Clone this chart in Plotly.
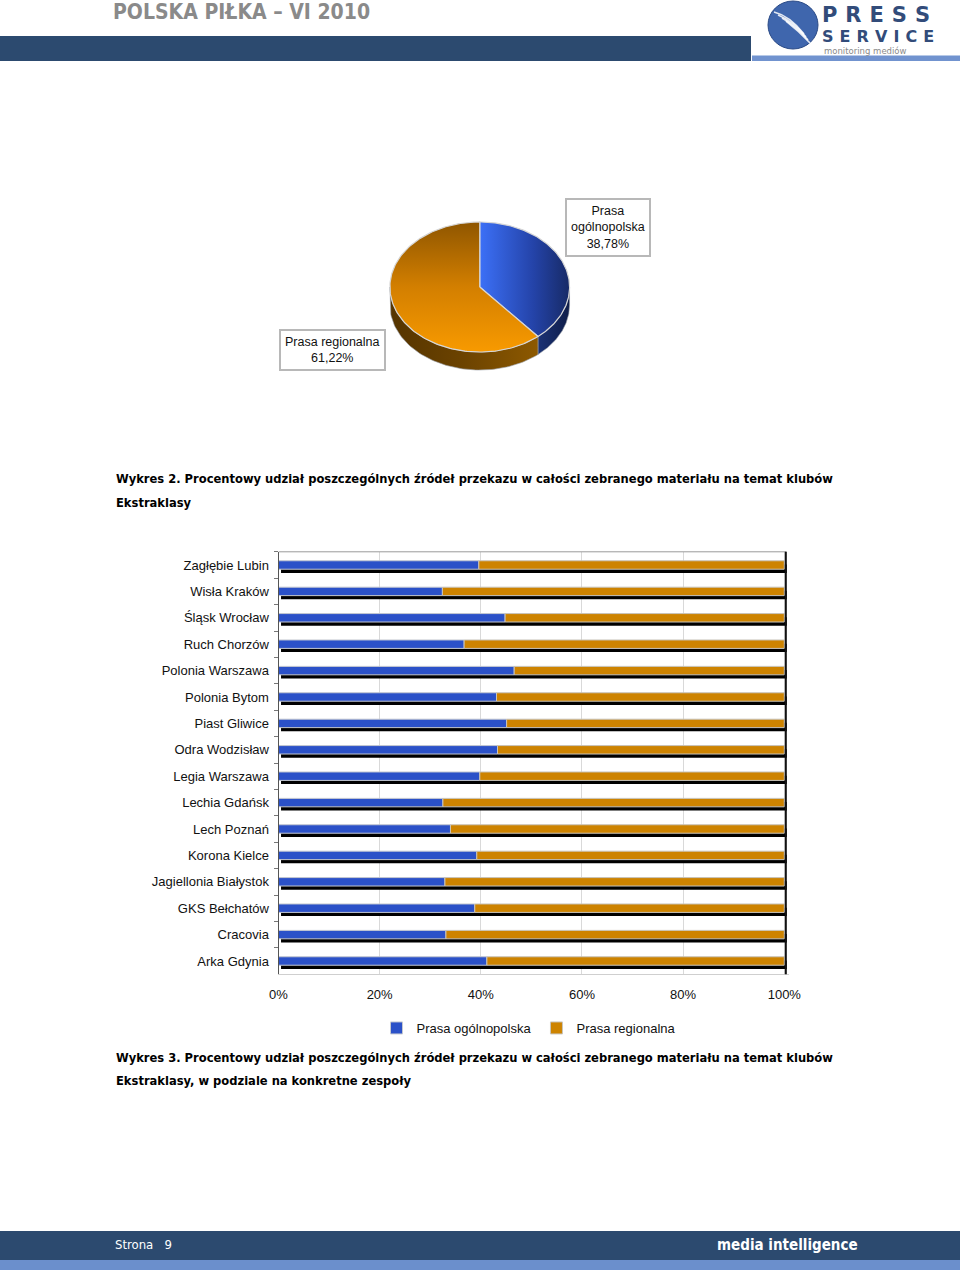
import numpy as np
import plotly.graph_objects as go

W, H = 960, 1277

# ---------------- data ----------------
pie_labels = ["Prasa ogólnopolska", "Prasa regionalna"]
pie_shares = [38.78, 61.22]
pie_text = ["Prasa<br>ogólnopolska<br>38,78%", "Prasa regionalna<br>61,22%"]

teams = ["Zagłębie Lubin", "Wisła Kraków", "Śląsk Wrocław", "Ruch Chorzów",
         "Polonia Warszawa", "Polonia Bytom", "Piast Gliwice", "Odra Wodzisław",
         "Legia Warszawa", "Lechia Gdańsk", "Lech Poznań", "Korona Kielce",
         "Jagiellonia Białystok", "GKS Bełchatów", "Cracovia", "Arka Gdynia"]
national = [39.6, 32.4, 44.8, 36.7, 46.6, 43.1, 45.1, 43.3,
            39.8, 32.5, 34.0, 39.2, 32.9, 38.8, 33.1, 41.2]
regional = [60.4, 67.6, 55.2, 63.3, 53.4, 56.9, 54.9, 56.7,
            60.2, 67.5, 66.0, 60.8, 67.1, 61.2, 66.9, 58.8]
x_ticks = [0, 20, 40, 60, 80, 100]
x_ticktext = ["0%", "20%", "40%", "60%", "80%", "100%"]

# ---------------- helpers ----------------
def px(x):
    return x / W

def py(y):
    return 1 - y / H

FONT = "Liberation Sans, Arial, sans-serif"
CFONT = "DejaVu Sans Condensed, DejaVu Sans, sans-serif"

fig = go.Figure()

# ---------------- 3D pie (ellipse) ----------------
depth = 18 / 65.0
frac = np.cumsum([0] + pie_shares) / sum(pie_shares) * 2 * np.pi
top_cols = [("horizontal", [[0, "#3c70f7"], [0.6, "#2443a8"], [1, "#172a66"]]),
            ("vertical", [[0, "#f89a00"], [0.5, "#d37f00"], [1, "#8f5600"]])]
side_cols = [("horizontal", [[0, "#1b3275"], [1, "#0f1d49"]]),
             ("horizontal", [[0, "#553400"], [0.5, "#6c4300"], [1, "#8d5900"]])]

for i in range(2):
    a0, a1 = frac[i], frac[i + 1]
    s0, s1 = max(a0, np.pi / 2), min(a1, 3 * np.pi / 2)
    if s1 > s0:
        th = np.linspace(s0, s1, 80)
        xs = np.concatenate([np.sin(th), np.sin(th[::-1]), [np.sin(th[0])]])
        ys = np.concatenate([np.cos(th), np.cos(th[::-1]) - depth, [np.cos(th[0])]])
        fig.add_trace(go.Scatter(x=xs, y=ys, xaxis="x2", yaxis="y2", mode="lines",
                                 fill="toself", line=dict(color="#9aa0a8", width=0.6),
                                 fillgradient=dict(type=side_cols[i][0], colorscale=side_cols[i][1]),
                                 hoverinfo="skip", showlegend=False))
for i in range(2):
    th = np.linspace(frac[i], frac[i + 1], 160)
    xs = np.concatenate([[0], np.sin(th), [0]])
    ys = np.concatenate([[0], np.cos(th), [0]])
    fig.add_trace(go.Scatter(x=xs, y=ys, xaxis="x2", yaxis="y2", mode="lines",
                             fill="toself", line=dict(color="#d6d6d6", width=1.2),
                             fillgradient=dict(type=top_cols[i][0], colorscale=top_cols[i][1]),
                             name=pie_labels[i], hoverinfo="skip", showlegend=False))

# ---------------- bar chart ----------------
bw = 0.32
fig.add_trace(go.Bar(y=teams, x=[100] * len(teams), base=0.5, orientation="h",
                     width=bw, offset=-bw / 2 + 0.14, marker=dict(color="#000000", line=dict(width=0)),
                     showlegend=False, hoverinfo="skip"))
fig.add_trace(go.Bar(y=teams, x=national, base=0, orientation="h", name="Prasa ogólnopolska",
                     width=bw, offset=-bw / 2,
                     marker=dict(color="#2b51c8", line=dict(color="#c4c8d0", width=1))))
fig.add_trace(go.Bar(y=teams, x=regional, base=national, orientation="h", name="Prasa regionalna",
                     width=bw, offset=-bw / 2,
                     marker=dict(color="#cd8300", line=dict(color="#c8c4bc", width=1))))

x0p, x100p = 278.5, 784.3
ppu = (x100p - x0p) / 100
xr_max = 101.0
plot_top, plot_bot = 551.8, 974.2

fig.update_layout(
    width=W, height=H, autosize=False,
    margin=dict(l=0, r=0, t=0, b=0, pad=0, autoexpand=False),
    paper_bgcolor="white", plot_bgcolor="white",
    barmode="overlay",
    showlegend=True,
    legend=dict(orientation="h", x=px(529), xanchor="center", y=py(1028), yanchor="middle",
                font=dict(family=FONT, size=13, color="#111111"), bgcolor="rgba(0,0,0,0)",
                itemwidth=30, traceorder="normal"),
    xaxis=dict(domain=[px(x0p), px(x0p + ppu * xr_max)], range=[0, xr_max], automargin=False,
               tickvals=x_ticks, ticktext=x_ticktext, showgrid=True, gridcolor="#d9d9d9",
               gridwidth=1, zeroline=False, showline=True, linecolor="#cfcfcf",
               ticks="", ticklabelstandoff=8,
               tickfont=dict(family=FONT, size=13, color="#111111"), fixedrange=True),
    yaxis=dict(domain=[py(plot_bot), py(plot_top)], type="category", categoryorder="array",
               categoryarray=teams, autorange="reversed", showgrid=False, zeroline=False,
               automargin=False,
               showline=True, linecolor="#555555", linewidth=1, ticks="outside", ticklen=4,
               tickcolor="#777777", tickson="boundaries", ticklabelstandoff=6,
               tickfont=dict(family=FONT, size=13, color="#111111"), fixedrange=True),
    xaxis2=dict(domain=[px(389), px(570.5)], range=[-1.01, 1.01], visible=False,
                automargin=False, anchor="y2", fixedrange=True),
    yaxis2=dict(domain=[py(371), py(221)], range=[-1 - depth - 0.015, 1.015], visible=False,
                automargin=False, anchor="x2", fixedrange=True),
)

shapes = []
shapes.append(dict(type="rect", xref="paper", yref="paper", x0=0, x1=px(751), y0=py(61), y1=py(36),
                   fillcolor="#2c4a6f", line=dict(width=0), layer="below"))
shapes.append(dict(type="rect", xref="paper", yref="paper", x0=px(752), x1=1, y0=py(61), y1=py(55.5),
                   fillcolor="#7193cf", line=dict(width=0), layer="below"))
shapes.append(dict(type="circle", xref="paper", yref="paper", x0=px(768), x1=px(818), y0=py(49), y1=py(1),
                   fillcolor="#3f66ad", line=dict(color="#2a4a86", width=1)))
for k in range(4):
    shapes.append(dict(type="path", xref="paper", yref="paper",
                       path="M {:.5f},{:.5f} Q {:.5f},{:.5f} {:.5f},{:.5f}".format(
                           px(774 + k * 4), py(12 + k * 3), px(790 + k * 3), py(16 + k * 5),
                           px(804 + k * 2), py(34 + k * 3)),
                       line=dict(color="rgba(255,255,255,0.85)", width=1.6)))
shapes.append(dict(type="rect", xref="paper", yref="paper", x0=0, x1=1, y0=py(1260), y1=py(1231),
                   fillcolor="#2c4a6f", line=dict(width=0), layer="below"))
shapes.append(dict(type="rect", xref="paper", yref="paper", x0=0, x1=1, y0=py(1270), y1=py(1260),
                   fillcolor="#6b8fcc", line=dict(width=0), layer="below"))
shapes.append(dict(type="line", xref="x", yref="y domain", x0=0, x1=100.4, y0=1, y1=1,
                   line=dict(color="#9a9a9a", width=1)))
shapes.append(dict(type="line", xref="x", yref="y domain", x0=100.3, x1=100.3, y0=0, y1=1,
                   line=dict(color="#111111", width=2)))
fig.update_layout(shapes=shapes)

ann = []
ann.append(dict(text="<b>POLSKA PIŁKA – VI 2010</b>", x=px(111), y=py(12.5), xref="paper", yref="paper",
                xanchor="left", yanchor="middle", showarrow=False,
                font=dict(family=CFONT, size=21, color="#8a8a8a")))
ann.append(dict(text="<b>P&#8200;R&#8200;E&#8200;S&#8200;S</b>",
                x=px(821), y=py(14.7), xref="paper", yref="paper",
                xanchor="left", yanchor="middle", showarrow=False, borderpad=0,
                font=dict(family="DejaVu Sans, sans-serif", size=21, color="#324c7a")))
ann.append(dict(text="<b>S&#8200;E&#8200;R&#8200;V&#8200;I&#8200;C&#8200;E</b>",
                x=px(821), y=py(36.2), xref="paper", yref="paper",
                xanchor="left", yanchor="middle", showarrow=False, borderpad=0,
                font=dict(family="DejaVu Sans, sans-serif", size=16, color="#324c7a")))
ann.append(dict(text="monitoring mediów", x=px(823), y=py(50.5), xref="paper", yref="paper",
                xanchor="left", yanchor="middle", showarrow=False, borderpad=0,
                font=dict(family="DejaVu Sans, sans-serif", size=8.5, color="#8a8a8a")))
ann.append(dict(text=pie_text[0], x=px(608), y=py(227), xref="paper", yref="paper",
                xanchor="center", yanchor="middle", showarrow=False, align="center",
                bgcolor="white", bordercolor="#b8b8b8", borderwidth=2, borderpad=4,
                font=dict(family=FONT, size=12.5, color="#111111")))
ann.append(dict(text=pie_text[1], x=px(332.5), y=py(350.5), xref="paper", yref="paper",
                xanchor="center", yanchor="middle", showarrow=False, align="center",
                bgcolor="white", bordercolor="#b8b8b8", borderwidth=2, borderpad=4,
                font=dict(family=FONT, size=12.5, color="#111111")))
cap_font = dict(family=CFONT, size=12.8, color="#000000")
for txt, y in [("<b>Wykres 2. Procentowy udział poszczególnych źródeł przekazu w całości zebranego materiału na temat klubów</b>", 479),
               ("<b>Ekstraklasy</b>", 502),
               ("<b>Wykres 3. Procentowy udział poszczególnych źródeł przekazu w całości zebranego materiału na temat klubów</b>", 1057),
               ("<b>Ekstraklasy, w podziale na konkretne zespoły</b>", 1080)]:
    ann.append(dict(text=txt, x=px(114), y=py(y), xref="paper", yref="paper", xanchor="left",
                    yanchor="middle", showarrow=False, font=cap_font))
ann.append(dict(text="Strona&nbsp;&nbsp;&nbsp;9", x=px(113), y=py(1244), xref="paper", yref="paper",
                xanchor="left", yanchor="middle", showarrow=False,
                font=dict(family=CFONT, size=13, color="white")))
ann.append(dict(text="<b>media intelligence</b>", x=px(715), y=py(1245), xref="paper", yref="paper",
                xanchor="left", yanchor="middle", showarrow=False,
                font=dict(family=CFONT, size=15, color="white")))
fig.update_layout(annotations=ann)

fig.write_html("out.html", config={"displayModeBar": False},
               post_script="document.body.style.margin='0';document.body.style.padding='0';"
                           "document.documentElement.style.overflow='hidden';")
